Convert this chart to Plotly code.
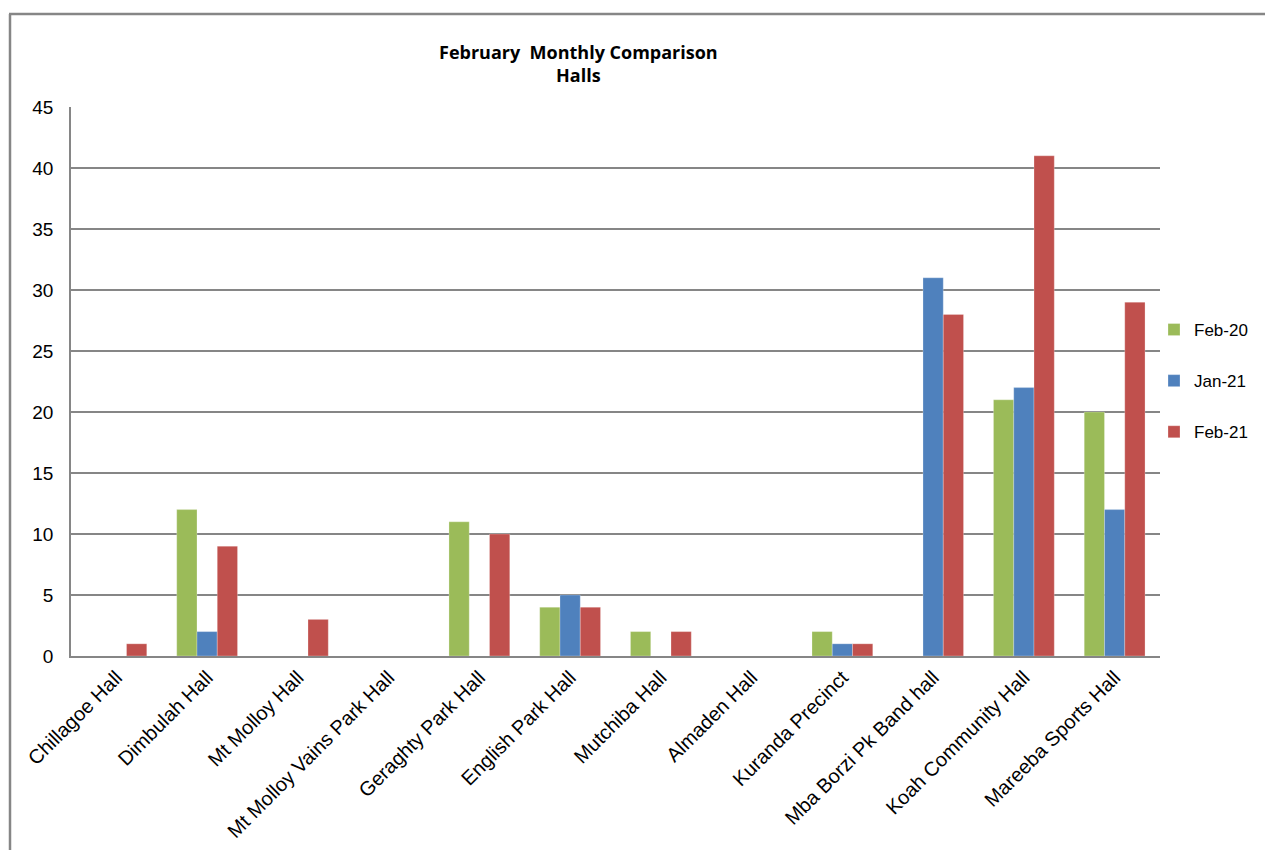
import plotly.graph_objects as go

categories = ["Chillagoe Hall", "Dimbulah Hall", "Mt Molloy Hall", "Mt Molloy Vains Park Hall",
              "Geraghty Park Hall", "English Park Hall", "Mutchiba Hall", "Almaden Hall",
              "Kuranda Precinct", "Mba Borzi Pk Band hall", "Koah Community Hall", "Mareeba Sports Hall"]
feb20 = [0, 12, 0, 0, 11, 4, 2, 0, 2, 0, 21, 20]
jan21 = [0, 2, 0, 0, 0, 5, 0, 0, 1, 31, 22, 12]
feb21 = [1, 9, 3, 0, 10, 4, 2, 0, 1, 28, 41, 29]
series_names = ["Feb-20", "Jan-21", "Feb-21"]
colors = ["#9BBB59", "#4F81BD", "#C0504D"]

W, H = 1265, 850
L, R, T, B = 71, 1160, 107, 656

fig = go.Figure()
for i, (name, vals) in enumerate(zip(series_names, [feb20, jan21, feb21])):
    fig.add_trace(go.Bar(
        x=categories, y=vals, name=name, legendgroup=name,
        marker=dict(color=colors[i], line=dict(color="rgba(255,255,255,0.5)", width=0.5)),
    ))

pw, ph = R - L, B - T
def px(x):
    return (x - L) / pw
def py(y):
    return (B - y) / ph

fig.update_layout(
    width=W, height=H,
    margin=dict(l=L, r=W - R, t=T, b=H - B, autoexpand=False),
    paper_bgcolor="white", plot_bgcolor="white",
    barmode="group", bargap=0.33, bargroupgap=0,
    font=dict(family="Liberation Sans, Arial", size=18, color="black"),
    showlegend=True,
    legend=dict(x=px(1154), y=py(381), xanchor="left", yanchor="middle",
                font=dict(size=17, color="black"), tracegroupgap=26,
                itemwidth=30, bgcolor="rgba(0,0,0,0)"),
    xaxis=dict(tickangle=-45, showgrid=False, showline=True, linecolor="#868686",
               linewidth=2, ticks="", tickfont=dict(size=20, color="black")),
    yaxis=dict(range=[0, 45], dtick=5, showgrid=True, gridcolor="#868686", gridwidth=1.5,
               showline=True, linecolor="#868686", linewidth=1.5, ticks="", zeroline=False,
               ticklabelstandoff=12, tickfont=dict(size=19, color="black")),
    annotations=[dict(text="<b>February  Monthly Comparison<br>Halls</b>", xref="paper", yref="paper",
                      x=px(578), y=py(64), xanchor="center", yanchor="middle", showarrow=False,
                      font=dict(family="Open Sans, Lato", size=18, color="black"), align="center")],
    shapes=[
        dict(type="line", xref="paper", yref="paper", x0=px(10), x1=px(10), y0=py(870), y1=py(14),
             line=dict(color="#868686", width=2.5)),
        dict(type="line", xref="paper", yref="paper", x0=px(9), x1=px(1290), y0=py(14), y1=py(14),
             line=dict(color="#868686", width=2.5)),
    ],
)
fig.write_html("out.html")
